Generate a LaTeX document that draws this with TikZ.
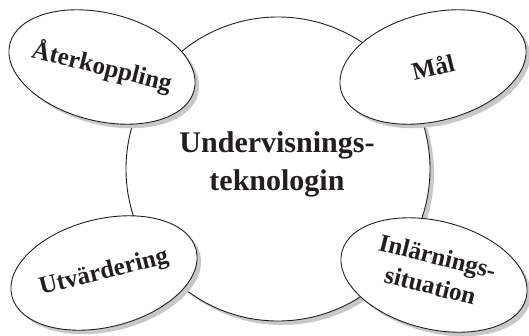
\documentclass[tikz,border=0pt]{standalone}
\usepackage{fontspec}
\setmainfont{Liberation Serif}
\usetikzlibrary{shapes.geometric}
\definecolor{shadowc}{RGB}{200,200,200}
\definecolor{inkc}{RGB}{35,31,32}
\begin{document}
\begin{tikzpicture}[x=1pt,y=1pt,
  bub/.style={ellipse, draw=inkc, line width=0.9pt, fill=white, minimum width=190pt, minimum height=108pt, inner sep=0pt},
  bubshadow/.style={ellipse, fill=shadowc, minimum width=190pt, minimum height=108pt, inner sep=0pt},
  lab/.style={font=\fontsize{25}{30}\selectfont\bfseries, text=inkc, align=center, inner sep=0pt},
  biglab/.style={font=\fontsize{30}{38}\selectfont\bfseries, text=inkc, align=center, inner sep=0pt}]
\useasboundingbox (0,0) rectangle (529,335);
% central circle
\node[circle, fill=shadowc, minimum size=304pt, inner sep=0pt] (cs) at (282,162) {};
\node[circle, draw=inkc, line width=0.9pt, fill=white, minimum size=304pt, inner sep=0pt] (c) at (278,166) {};
\node[biglab] (ct) at (277,171) {Undervisnings-\\teknologin};
% top left
\node[bubshadow, rotate=-14] (eas) at (106,264) {};
\node[bub, rotate=-14] (ea) at (102,268) {};
\node[lab, rotate=-14] (ta) at (ea.center) {Återkoppling};
% top right
\node[bubshadow, rotate=14] (ebs) at (437,264) {};
\node[bub, rotate=14] (eb) at (433,268) {};
\node[lab, rotate=14] (tb) at (eb.center) {Mål};
% bottom left
\node[bubshadow, rotate=14] (ecs) at (108,58) {};
\node[bub, rotate=14] (ec) at (104,62) {};
\node[lab, rotate=14] (tc) at (ec.center) {Utvärdering};
% bottom right
\node[bubshadow, rotate=-14] (eds) at (438,56) {};
\node[bub, rotate=-14] (ed) at (434,60) {};
\node[lab, rotate=-14] (td) at ([yshift=4pt]ed.center) {Inlärnings-\\situation};
\end{tikzpicture}
\end{document}
